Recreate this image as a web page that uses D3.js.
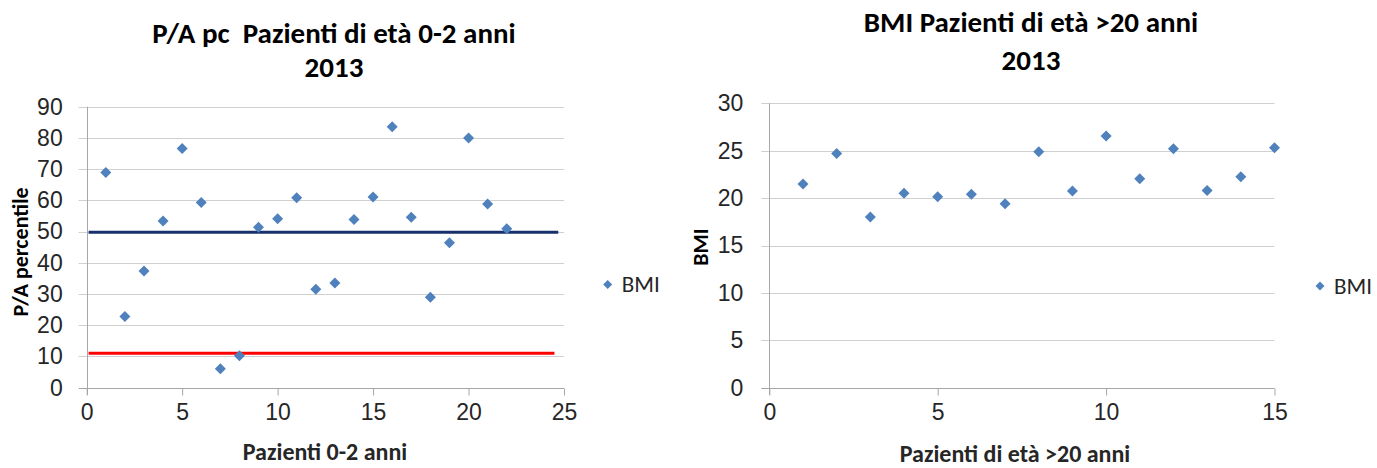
<!DOCTYPE html>
<html>
<head>
<meta charset="utf-8">
<script src="https://cdn.jsdelivr.net/npm/d3@7"></script>
<style>
  html, body { margin: 0; padding: 0; background: #fff; }
  svg { display: block; font-family: Carlito, Calibri, Lato, "Open Sans", sans-serif; }
  text { white-space: pre; }
</style>
</head>
<body>
<svg id="chart" width="1377" height="468"></svg>
<script>
// ---- Data: left chart (P/A percentile, patients 0-2 years) ----
const leftTitle = ["P/A pc  Pazienti di età 0-2 anni", "2013"];
const leftXLabel = "Pazienti 0-2 anni";
const leftYLabel = "P/A percentile";
const leftX = [1,2,3,4,5,6,7,8,9,10,11,12,13,14,15,16,17,18,19,20,21,22];
const leftY = [68.9,22.8,37.4,53.4,76.6,59.3,6.1,10.2,51.4,54.1,60.8,31.5,33.5,53.9,61.1,83.6,54.6,29.0,46.4,80.0,58.8,50.9];
const leftXTicks = [0,5,10,15,20,25];
const leftYTicks = [0,10,20,30,40,50,60,70,80,90];
const refLineValues = [49.8, 11.0];
const refLineStart = [0.1, 0.1];
const refLineEnd = [24.7, 24.5];
const refLineColors = ["#17306b", "#ff0000"];

// ---- Data: right chart (BMI, patients > 20 years) ----
const rightTitle = ["BMI Pazienti di età >20 anni", "2013"];
const rightXLabel = "Pazienti di età >20 anni";
const rightYLabel = "BMI";
const rightX = [1,2,3,4,5,6,7,8,9,10,11,12,13,14,15];
const rightY = [21.5,24.7,18.0,20.5,20.15,20.4,19.4,24.9,20.75,26.55,22.05,25.2,20.8,22.25,25.3];
const rightXTicks = [0,5,10,15];
const rightYTicks = [0,5,10,15,20,25,30];
const seriesName = "BMI";

const markerColor = "#4f81bd";
const gridColor = "#d0d0d0";
const axisColor = "#a6a6a6";
const svg = d3.select("#chart");

function diamond(r) {
  return `M0,${-r}L${r},0L0,${r}L${-r},0Z`;
}

function drawChart(cfg) {
  const g = svg.append("g");
  const x = d3.scaleLinear().domain(cfg.xDomain).range(cfg.xRange);
  const y = d3.scaleLinear().domain(cfg.yDomain).range(cfg.yRange);
  const x0 = cfg.xRange[0], x1 = cfg.xRange[1];

  // gridlines
  g.append("g").selectAll("line").data(cfg.yTicks).join("line")
    .attr("x1", x0 - 8).attr("x2", x1)
    .attr("y1", d => Math.round(y(d)) + 0.5).attr("y2", d => Math.round(y(d)) + 0.5)
    .attr("stroke", d => d === 0 ? axisColor : gridColor).attr("stroke-width", 1);

  // y axis line
  g.append("line")
    .attr("x1", Math.round(x0) + 0.5).attr("x2", Math.round(x0) + 0.5)
    .attr("y1", cfg.yRange[1]).attr("y2", cfg.yRange[0] + 7)
    .attr("stroke", axisColor);

  // x axis via d3
  const xAxis = d3.axisBottom(x).tickValues(cfg.xTicks).tickSize(7).tickPadding(8).tickFormat(d3.format("d"));
  const xa = g.append("g").attr("transform", `translate(0,${Math.round(cfg.yRange[0]) + 0.5})`).call(xAxis);
  xa.select(".domain").remove();
  xa.selectAll(".tick line").attr("stroke", axisColor);
  xa.selectAll(".tick text").attr("fill", "#262626").attr("font-size", 23).attr("font-family", null);

  // y axis labels via d3
  const yAxis = d3.axisLeft(y).tickValues(cfg.yTicks).tickSize(0).tickPadding(cfg.yPad).tickFormat(d3.format("d"));
  const ya = g.append("g").attr("transform", `translate(${x0},0)`).call(yAxis);
  ya.select(".domain").remove();
  ya.selectAll(".tick text").attr("fill", "#262626").attr("font-size", 23).attr("font-family", null);

  // reference lines
  if (cfg.refValues) {
    g.append("g").selectAll("line").data(cfg.refValues).join("line")
      .attr("x1", (d, i) => x(cfg.refStart[i])).attr("x2", (d, i) => x(cfg.refEnd[i]))
      .attr("y1", d => y(d)).attr("y2", d => y(d))
      .attr("stroke", (d, i) => cfg.refColors[i]).attr("stroke-width", 3);
  }

  // points
  g.append("g").selectAll("path").data(cfg.xs.map((v, i) => [v, cfg.ys[i]])).join("path")
    .attr("d", diamond(5.5))
    .attr("transform", d => `translate(${x(d[0])},${y(d[1])})`)
    .attr("fill", markerColor);

  // title
  const t = g.append("text").attr("text-anchor", "middle").attr("font-weight", "bold")
    .attr("font-size", 29).attr("fill", "#000");
  cfg.title.forEach((line, i) => {
    t.append("tspan").attr("x", cfg.titleX).attr("y", cfg.titleY + i * cfg.titleGap).text(line);
  });

  // x label
  g.append("text").attr("x", cfg.xLabelX).attr("y", cfg.xLabelY).attr("text-anchor", "middle")
    .attr("font-weight", "bold").attr("font-size", 24).attr("fill", "#262626").text(cfg.xLabel);

  // y label
  g.append("text").attr("transform", `translate(${cfg.yLabelX},${cfg.yLabelY}) rotate(-90)`)
    .attr("text-anchor", "middle").attr("font-weight", "bold").attr("font-size", 22)
    .attr("fill", "#000").text(cfg.yLabel);

  // legend
  const lg = g.append("g").attr("transform", `translate(${cfg.legendX},${cfg.legendY})`);
  lg.append("path").attr("d", diamond(4.5)).attr("fill", markerColor);
  lg.append("text").attr("x", 14).attr("y", 7.5).attr("font-size", 23).attr("fill", "#262626").text(seriesName);
}

drawChart({
  xs: leftX, ys: leftY,
  xDomain: [0, 25], xRange: [86.7, 564],
  yDomain: [0, 90], yRange: [387.7, 106.7],
  xTicks: leftXTicks, yTicks: leftYTicks, yPad: 24,
  refValues: refLineValues, refStart: refLineStart, refEnd: refLineEnd, refColors: refLineColors,
  title: leftTitle, titleX: 334, titleY: 43, titleGap: 34,
  xLabel: leftXLabel, xLabelX: 325, xLabelY: 460,
  yLabel: leftYLabel, yLabelX: 28, yLabelY: 252,
  legendX: 607.7, legendY: 284.5
});

drawChart({
  xs: rightX, ys: rightY,
  xDomain: [0, 15], xRange: [769.3, 1274.5],
  yDomain: [0, 30], yRange: [387.7, 103.3],
  xTicks: rightXTicks, yTicks: rightYTicks, yPad: 26,
  title: rightTitle, titleX: 1031, titleY: 32, titleGap: 38,
  xLabel: rightXLabel, xLabelX: 1015, xLabelY: 462,
  yLabel: rightYLabel, yLabelX: 708, yLabelY: 247,
  legendX: 1320, legendY: 286
});
</script>
</body>
</html>
